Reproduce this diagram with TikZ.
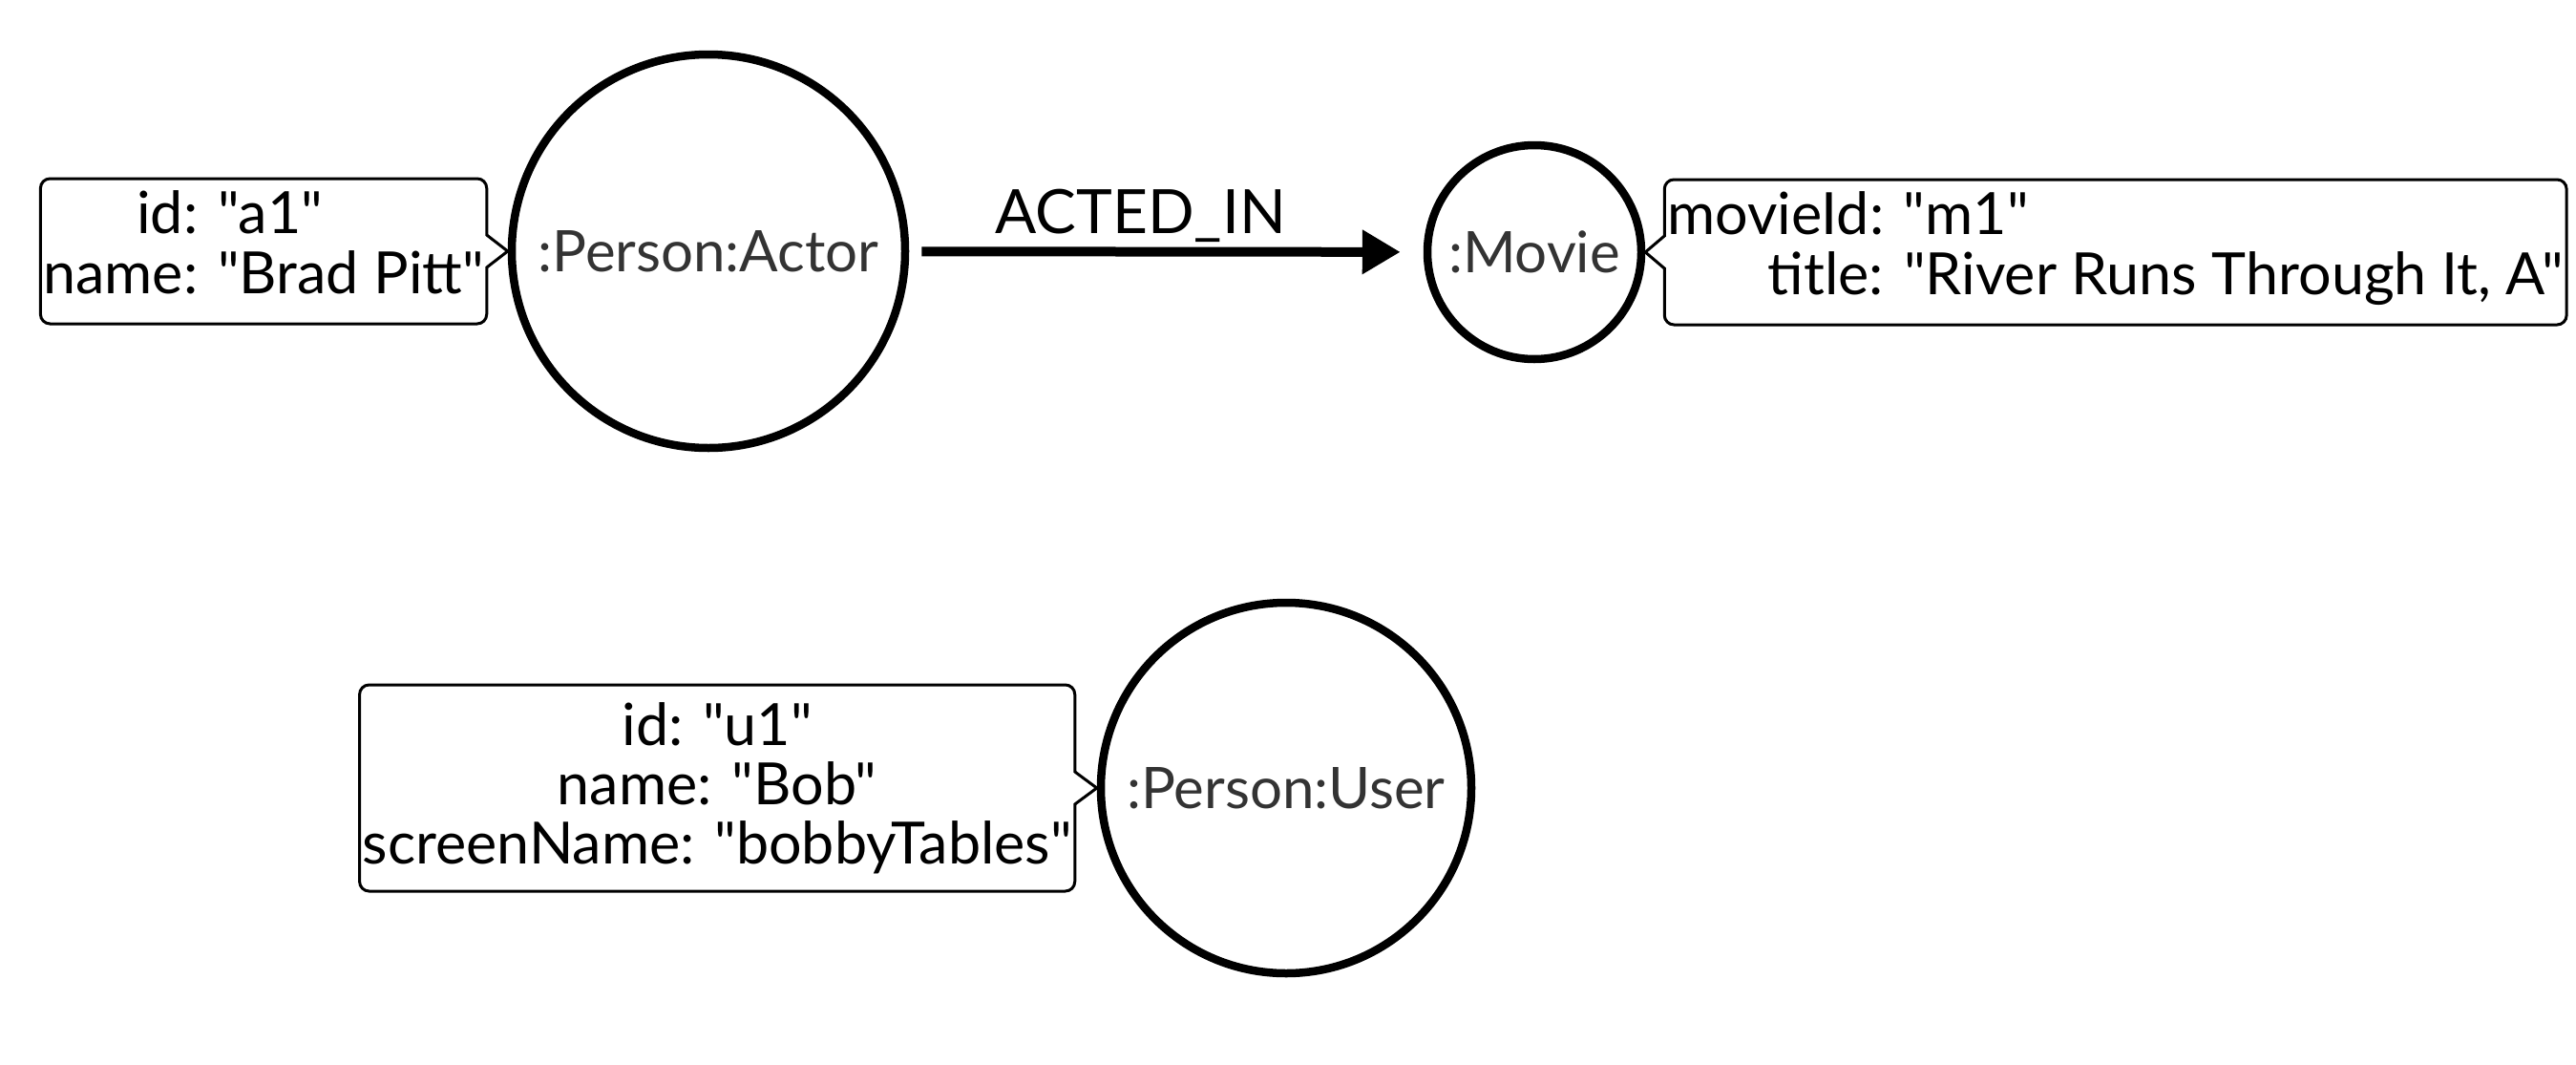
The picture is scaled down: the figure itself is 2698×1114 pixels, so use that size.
\documentclass[tikz,border=0pt]{standalone}
\usepackage{fontspec}
\setmainfont{Lato}[Ligatures=TeXOff]
\usepackage{xcolor}
\usetikzlibrary{positioning,calc,arrows.meta}
\definecolor{labelgray}{HTML}{333333}

\begin{document}
\begin{tikzpicture}[x=1pt, y=-1pt,
    font=\fontsize{61}{62}\selectfont,
    entity/.style={circle, draw, line width=8.5pt, minimum size=#1, inner sep=0pt,
        text=labelgray, font=\fontsize{60}{62}\selectfont},
    props/.style={draw, line width=3pt, rounded corners=10pt, outer sep=0pt,
        inner xsep=3pt, inner ysep=0pt, minimum height=#1, fill=white},
    rel/.style={-{Triangle[length=40pt,width=44pt]}, line width=10pt},
    pointer/.style={line width=3pt}]
    \useasboundingbox (0,0) rectangle (2698,1114);

    % Graph nodes
    \node[entity=412pt] (actor) at (742,263) {:Person:Actor};
    \node[entity=224pt] (movie) at (1607,264) {:Movie};
    \node[entity=388pt] (user) at (1347,825) {:Person:User};

    % Property boxes
    \node[props=152pt, left=22pt of actor] (actorprops)
        {\begin{tabular}{@{}r@{ }l@{}} id: & "a1"\\ name: & "Brad Pitt"\end{tabular}};
    \node[props=152pt, right=20pt of movie] (movieprops)
        {\begin{tabular}{@{}r@{ }l@{}} movieId: & "m1"\\ title: & "River Runs Through It, A"\end{tabular}};
    \node[props=216pt, left=23pt of user, align=center] (userprops)
        {id: "u1"\\ name: "Bob"\\ screenName: "bobbyTables"};

    % Pointers from the boxes to their nodes
    \foreach \p/\n/\pa/\na in {actorprops/actor/east/west, movieprops/movie/west/east, userprops/user/east/west} {
        \fill[white] ($(\p.\pa)+(-2.5,-16)$) rectangle ($(\p.\pa)+(2.5,16)$);
        \draw[pointer] ($(\p.\pa)+(0,-17)$) -- (\n.\na) -- ($(\p.\pa)+(0,17)$);
    }

    % Relationship
    \draw[rel, shorten <=13pt, shorten >=24pt] (actor) -- (movie)
        node[pos=.45, anchor=base, yshift=19pt, font=\fontsize{64}{64}\selectfont] {ACTED\_IN};
\end{tikzpicture}
\end{document}
